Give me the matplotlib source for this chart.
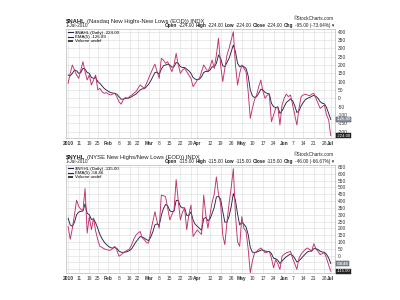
import matplotlib
matplotlib.use('Agg')
import matplotlib.pyplot as plt
from matplotlib.lines import Line2D
from matplotlib.patches import Patch
import pandas as pd

# trading days, 4 Jan 2010 .. 1 Jul 2010
holidays = ['2010-01-18', '2010-02-15', '2010-04-02', '2010-05-31']
dates = pd.bdate_range('2010-01-04', '2010-07-01').drop(pd.to_datetime(holidays))

nahl = [90, 150, 200, 170, 140, 120, 170, 220, 160, 110,
        140, 80, 110, 140, 50, 60, 40, 30, 35, 25,
        20, 25, 30, 10, -20, -35, -10, 5, 0, 10,
        20, 30, 40, 60, 80, 70, 60, 90, 120, 150,
        180, 205, 160, 120, 240, 230, 210, 220, 190, 160,
        200, 270, 200, 150, 170, 180, 160, 140, 120, 70,
        90, 110, 120, 160, 200, 180, 160, 190, 230, 180,
        260, 360, 200, 100, 180, 260, 300, 350, 400, 200,
        80, 150, 200, 180, 160, 40, -120, -60, -10, 20,
        70, 110, 40, 0, 20, 20, -140, -100, -60, -50,
        -160, -40, 0, 25, 10, 20, -40, -100, -160, -60,
        10, 20, 25, 20, 15, 25, 30, 0, -30, -60,
        -50, -40, -100, -129, -224]
nahl_ema = [140, 135, 150, 170, 165, 150, 155, 180, 175, 155,
            150, 125, 120, 125, 100, 90, 75, 60, 50, 42,
            35, 32, 30, 25, 10, -5, -5, 0, 0, 3,
            10, 18, 25, 38, 50, 57, 58, 70, 85, 105,
            130, 155, 157, 145, 175, 195, 200, 205, 200, 187,
            190, 215, 210, 190, 185, 185, 175, 165, 150, 125,
            115, 112, 115, 130, 155, 162, 160, 170, 190, 187,
            210, 260, 240, 195, 190, 215, 240, 280, 320, 280,
            210, 190, 195, 190, 180, 135, 50, 15, 5, 10,
            30, 55, 50, 35, 30, 27, -30, -50, -55, -53,
            -90, -75, -50, -25, -15, -3, -15, -45, -85, -75,
            -45, -25, -8, 0, 5, 12, 18, 12, 0, -20,
            -30, -33, -55, -90, -126.89]

nyhl = [213, 120, 200, 300, 407, 360, 340, 330, 492, 165,
        286, 190, 275, 180, 116, 68, 60, 50, 44, 40,
        39, 50, 68, 40, -5, 5, 20, 31, 40, 48,
        80, 120, 150, 165, 177, 130, 116, 95, 92, 180,
        250, 322, 250, 201, 443, 440, 431, 350, 262, 300,
        335, 558, 400, 262, 320, 347, 190, 300, 371, 140,
        165, 189, 170, 155, 443, 300, 201, 300, 395, 450,
        577, 450, 380, 150, 80, 250, 383, 500, 638, 300,
        100, 68, 286, 200, 177, 50, -126, -40, 19, 30,
        45, 56, 40, 20, 25, 32, -20, -90, -30, -60,
        -102, -5, 10, 20, 25, 31, -20, -60, -102, -20,
        10, 30, 45, 56, 45, 32, 87, 50, 30, 7,
        15, 20, -20, -69, -115]
nyhl_ema = [274, 225, 215, 245, 300, 320, 325, 327, 380, 310,
            300, 265, 270, 240, 200, 155, 125, 100, 82, 68,
            58, 55, 60, 53, 33, 25, 23, 26, 30, 36,
            50, 75, 100, 120, 140, 135, 128, 117, 110, 135,
            175, 225, 233, 222, 295, 345, 375, 365, 330, 322,
            325, 405, 405, 360, 350, 350, 295, 295, 320, 260,
            230, 215, 200, 185, 270, 280, 255, 270, 310, 355,
            430, 435, 415, 325, 245, 245, 290, 360, 455, 405,
            305, 225, 245, 230, 210, 155, 60, 25, 23, 25,
            32, 40, 40, 33, 30, 31, 14, -20, -23, -35,
            -58, -40, -23, -9, 2, 12, 1, -19, -47, -38,
            -22, -5, 12, 27, 33, 33, 51, 51, 44, 32,
            26, 24, 9, -17, -58.46]

tick_dates = ['2010-01-04', '2010-01-11', '2010-01-19', '2010-01-25', '2010-02-01',
              '2010-02-08', '2010-02-16', '2010-02-22', '2010-03-01', '2010-03-08',
              '2010-03-15', '2010-03-22', '2010-03-29', '2010-04-01', '2010-04-12',
              '2010-04-19', '2010-04-26', '2010-05-03', '2010-05-10', '2010-05-17',
              '2010-05-24', '2010-06-01', '2010-06-07', '2010-06-14', '2010-06-21',
              '2010-06-28', '2010-07-01']
tick_labels = ['2010', '11', '19', '25', 'Feb', '8', '16', '22', 'Mar', '8', '15', '22',
               '29', 'Apr', '12', '19', '26', 'May', '10', '17', '24', 'Jun', '7', '14',
               '21', '28', 'Jul']

W, H = 400, 300
DAILY = '#c0306a'
EMA = '#23234a'
GRID = '#e2e2e2'

plt.rcParams['font.family'] = ['Liberation Sans', 'DejaVu Sans']

fig = plt.figure(figsize=(4, 3), dpi=100)
fig.patch.set_facecolor('white')
renderer = fig.canvas.get_renderer()


def fx(px):
    return px / W


def fy(py):
    return 1 - py / H


def runs_text(x_px, y_px, runs, size, align='left'):
    # draw text pieces next to each other, some bold
    items = []
    x = 0
    for s, bold in runs:
        t = fig.text(0, fy(y_px), s, fontsize=size, color='#222222',
                     fontweight='bold' if bold else 'normal', va='baseline')
        w = t.get_window_extent(renderer).width
        items.append((t, x))
        x += w + 1.2
    start = x_px if align == 'left' else x_px - x
    for t, off in items:
        t.set_x(fx(start + off))


def panel(top, bottom, daily, ema, name, desc, ylim, yticks, ohlc, chg, ema_last):
    ax = fig.add_axes([fx(66), fy(bottom), fx(335 - 66), (bottom - top) / H])
    x = list(range(len(dates)))
    ax.plot(x, ema, color=EMA, lw=0.65)
    ax.plot(x, daily, color=DAILY, lw=0.65)
    ax.set_xlim(-1, 126)
    ax.set_ylim(*ylim)

    pos = [dates.get_loc(pd.Timestamp(d)) for d in tick_dates]
    ax.set_xticks(pos)
    ax.set_xticklabels(tick_labels)
    for lab in ax.get_xticklabels():
        if not lab.get_text().isdigit() or lab.get_text() == '2010':
            lab.set_fontweight('bold')

    # tick labels sitting behind the last-value boxes are hidden
    span = ylim[1] - ylim[0]
    ylabels = []
    for v in yticks:
        near = min(abs(v - ema_last), abs(v - daily[-1])) < span * 0.035
        ylabels.append('' if near else str(v))
    ax.set_yticks(yticks)
    ax.set_yticklabels(ylabels)
    ax.yaxis.tick_right()
    ax.tick_params(axis='both', length=0, labelsize=3.5, colors='#333333', pad=2)
    ax.grid(True, color=GRID, lw=0.5)
    ax.set_axisbelow(True)
    for s in ax.spines.values():
        s.set_color('#bbbbbb')
        s.set_linewidth(0.5)

    # last value boxes
    ax.text(1.006, ema_last, '%.2f' % ema_last, transform=ax.get_yaxis_transform(),
            fontsize=3.1, color='white', va='center', ha='left',
            bbox=dict(boxstyle='square,pad=0.08', fc='#8a94a8', ec='#333333', lw=0.3))
    ax.text(1.006, daily[-1], '%.2f' % daily[-1], transform=ax.get_yaxis_transform(),
            fontsize=3.1, color='white', va='center', ha='left',
            bbox=dict(boxstyle='square,pad=0.08', fc='#222222', ec='#222222', lw=0.3))

    handles = [Line2D([], [], color=EMA, lw=0.8),
               Line2D([], [], color=EMA, lw=0.8),
               Patch(fc='#444444')]
    labels = ['%s (Daily) %.2f' % (name, daily[-1]), 'EMA(5) %.2f' % ema_last, 'Volume undef']
    ax.legend(handles, labels, loc='upper left', fontsize=3.2, frameon=False,
              handlelength=1.2, handleheight=0.5, handletextpad=0.4,
              labelspacing=0.1, borderpad=0.15, borderaxespad=0.2)

    runs_text(66, top - 6.5, [(name, True), (desc, False)], 4.2)
    runs_text(66, top - 2.2, [('1-Jul-2010', False)], 3.4)
    runs_text(335, top - 8.5, [('\u00a9StockCharts.com', False)], 3.4, align='right')
    runs_text(335, top - 2.2,
              [('Open', True), ('%.2f' % ohlc, False), ('High', True), ('%.2f' % ohlc, False),
               ('Low', True), ('%.2f' % ohlc, False), ('Close', True), ('%.2f' % ohlc, False),
               ('Chg', True), (chg + ' \u25be', False)], 3.4, align='right')
    return ax


panel(29, 138, nahl, nahl_ema, '$NAHL', '(Nasdaq New Highs-New Lows (EOD)) INDX',
      (-238, 416), list(range(-200, 401, 50)), nahl[-1], '-95.00 (-73.64%)', nahl_ema[-1])
panel(165, 273, nyhl, nyhl_ema, '$NYHL', '(NYSE New Highs/New Lows (EOD)) INDX',
      (-128, 665), list(range(-100, 651, 50)), nyhl[-1], '-46.00 (-66.67%)', nyhl_ema[-1])

fig.savefig('out.png', dpi=100, facecolor='white')
